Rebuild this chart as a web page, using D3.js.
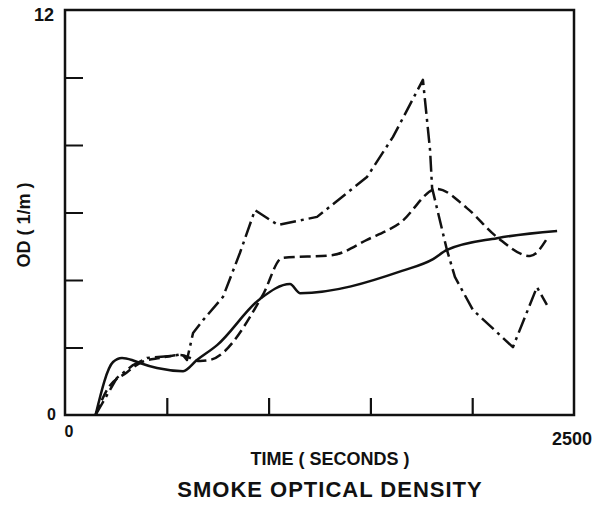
<!DOCTYPE html>
<html>
<head>
<meta charset="utf-8">
<script src="https://cdn.jsdelivr.net/npm/d3@7"></script>
<style>
  body { margin: 0; background: #fff; }
  text { font-family: "Liberation Sans", Arial, sans-serif; font-weight: bold; fill: #111; }
</style>
</head>
<body>
<div id="chart"></div>
<script>
// time in seconds, OD in 1/m
var solidT  = [150, 236, 280, 329, 368, 452, 580, 648, 747, 958, 1105, 1154, 1655, 1808, 1876, 2122, 2417]
var solidOD = [0, 1.57, 1.69, 1.63, 1.54, 1.39, 1.30, 1.63, 2.07, 3.44, 3.88, 3.61, 4.27, 4.62, 4.89, 5.24, 5.45]

var dashT  = [150, 206, 305, 378, 467, 565, 663, 712, 972, 1066, 1316, 1483, 1645, 1827, 1974, 2122, 2284, 2372]
var dashOD = [0, 0.74, 1.27, 1.57, 1.69, 1.78, 1.60, 1.63, 3.56, 4.65, 4.74, 5.19, 5.69, 6.70, 6.13, 5.27, 4.71, 5.27]

var dotT  = [150, 255, 334, 403, 530, 575, 599, 629, 678, 776, 859, 933, 1046, 1238, 1483, 1611, 1758, 1793, 1803, 1876, 1915, 2004, 2200, 2318, 2367]
var dotOD = [0, 1.10, 1.48, 1.69, 1.75, 1.81, 1.63, 2.43, 2.81, 3.50, 4.80, 6.07, 5.63, 5.87, 7.05, 8.24, 9.93, 7.85, 6.73, 4.89, 4.09, 3.11, 2.01, 3.79, 3.26]

var xTicks = [500, 1000, 1500, 2000]
var yTicks = [2, 4, 6, 8, 10]

var W = 604, H = 509

var svg = d3.select("#chart")
    .append("svg")
    .attr("width", W)
    .attr("height", H)

var x = d3.scaleLinear().domain([0, 2500]).range([65, 574])
var y = d3.scaleLinear().domain([0, 12]).range([415, 10])

// inward ticks, no labels
svg.append("g")
    .attr("transform", "translate(" + x(0) + ",0)")
    .call(d3.axisRight(y).tickValues(yTicks).tickSize(18).tickFormat(""))
    .call(g => g.select(".domain").remove())
    .selectAll("line").attr("stroke", "#111").attr("stroke-width", 2)

svg.append("g")
    .attr("transform", "translate(0," + y(0) + ")")
    .call(d3.axisTop(x).tickValues(xTicks).tickSize(17).tickFormat(""))
    .call(g => g.select(".domain").remove())
    .selectAll("line").attr("stroke", "#111").attr("stroke-width", 2.2)

// frame
svg.append("rect")
    .attr("x", x(0))
    .attr("y", y(12))
    .attr("width", x(2500) - x(0))
    .attr("height", y(0) - y(12))
    .attr("fill", "none")
    .attr("stroke", "#111")
    .attr("stroke-width", 2.5)

function series(ts, vs) {
    return ts.map(function(t, i) { return [t, vs[i]] })
}

var lines = [
    {data: series(solidT, solidOD), dash: null, curve: d3.curveMonotoneX},
    {data: series(dashT, dashOD), dash: "11,5", curve: d3.curveMonotoneX},
    {data: series(dotT, dotOD), dash: "16,5,3,5", curve: d3.curveLinear}
]

svg.selectAll(".series")
    .data(lines)
    .enter()
    .append("path")
    .attr("class", "series")
    .attr("d", function(d) {
        return d3.line()
            .x(function(p) { return x(p[0]) })
            .y(function(p) { return y(p[1]) })
            .curve(d.curve)(d.data)
    })
    .attr("fill", "none")
    .attr("stroke", "#111")
    .attr("stroke-width", 2.5)
    .attr("stroke-linejoin", "round")
    .attr("stroke-dasharray", function(d) { return d.dash })

// tick labels
svg.append("text").attr("x", 54).attr("y", 21).attr("text-anchor", "end")
    .style("font-size", "18px").text("12")
svg.append("text").attr("x", 56).attr("y", 420).attr("text-anchor", "end")
    .style("font-size", "16px").text("0")
svg.append("text").attr("x", 69).attr("y", 437).attr("text-anchor", "middle")
    .style("font-size", "16px").text("0")
svg.append("text").attr("x", 592).attr("y", 445).attr("text-anchor", "end")
    .style("font-size", "18px").text("2500")

// axis titles
svg.append("text").attr("x", 330).attr("y", 465).attr("text-anchor", "middle")
    .style("font-size", "18px").text("TIME ( SECONDS )")
svg.append("text").attr("x", 330).attr("y", 497).attr("text-anchor", "middle")
    .style("font-size", "22px").style("letter-spacing", "1px").text("SMOKE OPTICAL DENSITY")
svg.append("text")
    .attr("transform", "translate(30,225) rotate(-90)")
    .attr("text-anchor", "middle")
    .style("font-size", "18px")
    .text("OD ( 1/m )")
</script>
</body>
</html>
